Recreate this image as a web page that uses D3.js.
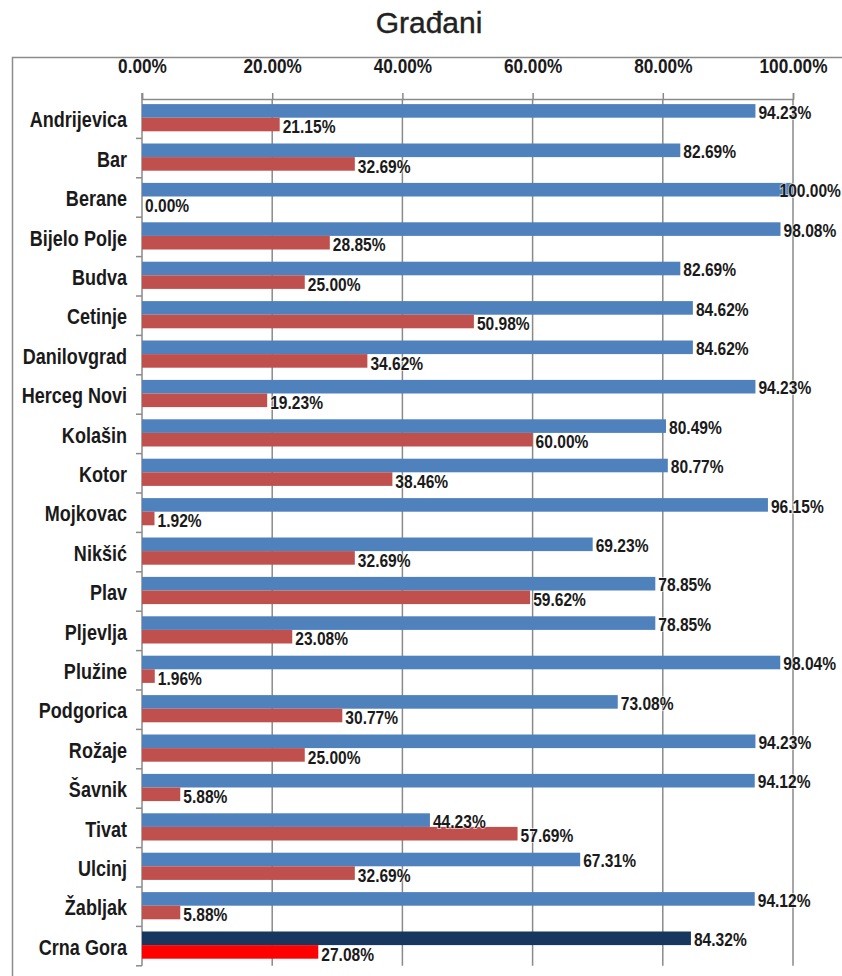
<!DOCTYPE html>
<html>
<head>
<meta charset="utf-8">
<title>Građani</title>
<script src="https://d3js.org/d3.v7.min.js"></script>
<style>
  body { margin: 0; background: #fff; }
  svg text { font-family: "Liberation Sans", Arial, sans-serif; }
</style>
</head>
<body>
<div id="vis"></div>
<script>
// data
var municipalities = ["Andrijevica", "Bar", "Berane", "Bijelo Polje", "Budva", "Cetinje", "Danilovgrad",
  "Herceg Novi", "Kolašin", "Kotor", "Mojkovac", "Nikšić", "Plav", "Pljevlja", "Plužine", "Podgorica",
  "Rožaje", "Šavnik", "Tivat", "Ulcinj", "Žabljak", "Crna Gora"];
var blueValues = [94.23, 82.69, 100.00, 98.08, 82.69, 84.62, 84.62, 94.23, 80.49, 80.77, 96.15,
  69.23, 78.85, 78.85, 98.04, 73.08, 94.23, 94.12, 44.23, 67.31, 94.12, 84.32];
var redValues = [21.15, 32.69, 0.00, 28.85, 25.00, 50.98, 34.62, 19.23, 60.00, 38.46, 1.92,
  32.69, 59.62, 23.08, 1.96, 30.77, 25.00, 5.88, 57.69, 32.69, 5.88, 27.08];
var tickValues = [0, 0.2, 0.4, 0.6, 0.8, 1.0];
var totalLabel = "Crna Gora";

var W = 842, H = 976;
var narrow = 0.82; // squeeze text horizontally, no narrow font installed

var svg = d3.select("#vis").append("svg")
  .attr("width", W).attr("height", H);

// outer frame
svg.append("rect")
  .attr("x", 12.5).attr("y", 57.5)
  .attr("width", 840).attr("height", 940)
  .attr("fill", "none").attr("stroke", "#8c8c8c").attr("stroke-width", 1.5);

// title
svg.append("text")
  .attr("x", 429).attr("y", 33)
  .attr("text-anchor", "middle")
  .style("font-size", "30px")
  .attr("fill", "#222")
  .attr("stroke", "#222").attr("stroke-width", 0.4)
  .text("Građani");

var x = d3.scaleLinear().domain([0, 1]).range([142, 793]);
var y = d3.scaleBand().domain(municipalities).range([99, 99 + 22 * 39.4]).paddingInner(0).paddingOuter(0);
var barH = 13.6, pad = (y.bandwidth() - 2 * barH) / 2;

var data = municipalities.map(function(m, i) {
  return { name: m, blue: blueValues[i] / 100, red: redValues[i] / 100 };
});

// gridlines
svg.append("g").selectAll("line")
  .data(tickValues.slice(1))
  .enter().append("line")
  .attr("x1", function(d) { return x(d); }).attr("x2", function(d) { return x(d); })
  .attr("y1", y.range()[0]).attr("y2", y.range()[1])
  .attr("stroke", "#8a8a8a").attr("stroke-width", 1.5);

// top axis
var xAxis = svg.append("g")
  .attr("transform", "translate(0," + y.range()[0] + ")")
  .call(d3.axisTop(x).tickValues(tickValues).tickFormat(d3.format(".2%")).tickSizeOuter(0).tickSize(6).tickPadding(20));
xAxis.select(".domain").attr("stroke", "#8a8a8a").attr("stroke-width", 1.5);
xAxis.selectAll(".tick line").attr("stroke", "#8a8a8a").attr("stroke-width", 1.5);
xAxis.selectAll(".tick text")
  .attr("fill", "#1a1a1a")
  .attr("transform", "scale(" + narrow + ",1)")
  .style("font-family", "'Liberation Sans', Arial, sans-serif")
  .style("font-size", "21px").style("font-weight", "bold");

// left axis line + band boundary ticks
svg.append("line")
  .attr("x1", x(0)).attr("x2", x(0))
  .attr("y1", y.range()[0] - 6).attr("y2", y.range()[1])
  .attr("stroke", "#8a8a8a").attr("stroke-width", 1.5);
svg.append("g").selectAll("line")
  .data(municipalities)
  .enter().append("line")
  .attr("x1", x(0) - 6).attr("x2", x(0))
  .attr("y1", function(d) { return y(d) + y.bandwidth(); })
  .attr("y2", function(d) { return y(d) + y.bandwidth(); })
  .attr("stroke", "#8a8a8a").attr("stroke-width", 1.5);

// category labels
svg.append("g").selectAll("text")
  .data(municipalities)
  .enter().append("text")
  .attr("transform", function(d) {
    return "translate(127," + (y(d) + y.bandwidth() / 2 + 1) + ") scale(" + narrow + ",1)";
  })
  .attr("dy", "0.35em")
  .attr("text-anchor", "end")
  .attr("fill", "#1a1a1a")
  .style("font-size", "22px").style("font-weight", "bold")
  .text(function(d) { return d; });

// bars
var rows = svg.append("g").selectAll("g")
  .data(data)
  .enter().append("g")
  .attr("transform", function(d) { return "translate(0," + y(d.name) + ")"; });

rows.append("rect")
  .attr("x", x(0)).attr("y", pad - 1)
  .attr("width", function(d) { return x(d.blue) - x(0); })
  .attr("height", barH)
  .attr("fill", function(d) { return d.name === totalLabel ? "#17375e" : "#4f81bd"; });

rows.append("rect")
  .attr("x", x(0)).attr("y", pad - 1 + barH)
  .attr("width", function(d) { return x(d.red) - x(0); })
  .attr("height", barH)
  .attr("fill", function(d) { return d.name === totalLabel ? "#ff0000" : "#c0504d"; });

// value labels, pulled back inside the frame when they would run off
function valueLabel(sel, key, yOff) {
  sel.append("text")
    .attr("dy", "0.35em")
    .attr("fill", "#1a1a1a")
    .attr("stroke", "#ffffff").attr("stroke-width", 2).attr("stroke-opacity", 0.6)
    .attr("paint-order", "stroke")
    .style("font-size", "19px").style("font-weight", "bold")
    .text(function(d) { return d3.format(".2%")(d[key]); })
    .attr("transform", function(d) {
      var w = this.getComputedTextLength() * narrow;
      var px = Math.min(x(d[key]) + 3, W - 1 - w);
      return "translate(" + px + "," + yOff + ") scale(" + narrow + ",1)";
    });
}
valueLabel(rows, "blue", pad + barH / 2);
valueLabel(rows, "red", pad + barH * 1.5 + 1);
</script>
</body>
</html>
